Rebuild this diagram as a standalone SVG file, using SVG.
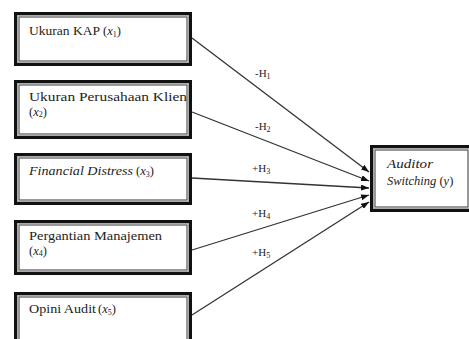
<svg xmlns="http://www.w3.org/2000/svg" width="469" height="339" viewBox="0 0 469 339">
<style>
.outer{fill:#fff;stroke:#111;stroke-width:3}
.inner{fill:none;stroke:#555;stroke-width:1.2}
.gap{fill:none;stroke:#aaa;stroke-width:1}
.t{font-family:'Liberation Serif','DejaVu Serif',serif;font-size:12.5px;fill:#222}
.i{font-style:italic}
.s{font-size:8px}
.lbl{font-family:'Liberation Serif','DejaVu Serif',serif;font-size:11px;fill:#222}
.ln{stroke:#333;stroke-width:1.3;fill:none;marker-end:url(#ah)}
</style>
<defs>
<marker id="ah" markerWidth="8" markerHeight="6" refX="8" refY="3" orient="auto" markerUnits="userSpaceOnUse">
<path d="M0,0 L8,3 L0,6 Z" fill="#111"/>
</marker>
</defs>
<rect width="469" height="339" fill="#fff"/>
<g id="connectors">
<line class="ln" x1="192" y1="38" x2="369" y2="172"/>
<line class="ln" x1="192" y1="112" x2="369" y2="181"/>
<line class="ln" x1="192" y1="178" x2="369" y2="188"/>
<line class="ln" x1="192" y1="250" x2="369" y2="195"/>
<line class="ln" x1="192" y1="315" x2="369" y2="202"/>
<text class="lbl" x="255" y="77">-H<tspan class="s" dy="2">1</tspan></text>
<text class="lbl" x="255" y="130">-H<tspan class="s" dy="2">2</tspan></text>
<text class="lbl" x="252" y="172">+H<tspan class="s" dy="2">3</tspan></text>
<text class="lbl" x="252" y="217">+H<tspan class="s" dy="2">4</tspan></text>
<text class="lbl" x="252" y="256">+H<tspan class="s" dy="2">5</tspan></text>
</g>
<g id="x1">
<rect class="outer" x="15.5" y="13.5" width="175" height="51"/>
<rect class="gap" x="17.5" y="15.5" width="171" height="47"/>
<rect class="inner" x="19" y="17" width="168" height="44"/>
<text class="t" x="29" y="35" textLength="71" lengthAdjust="spacingAndGlyphs">Ukuran KAP</text>
<text class="t" x="103" y="35">(<tspan class="i">x</tspan><tspan class="s" dy="2">1</tspan><tspan dy="-2">)</tspan></text>
</g>
<g id="x2">
<rect class="outer" x="15.5" y="81.5" width="175" height="56"/>
<rect class="gap" x="17.5" y="83.5" width="171" height="52"/>
<rect class="inner" x="19" y="85" width="168" height="49"/>
<text class="t" x="29" y="101" textLength="158" lengthAdjust="spacingAndGlyphs">Ukuran Perusahaan Klien</text>
<text class="t" x="29" y="116">(<tspan class="i">x</tspan><tspan class="s" dy="1">2</tspan><tspan dy="-1">)</tspan></text>
</g>
<g id="x3">
<rect class="outer" x="15.5" y="154.5" width="175" height="49"/>
<rect class="gap" x="17.5" y="156.5" width="171" height="45"/>
<rect class="inner" x="19" y="158" width="168" height="42"/>
<text class="t i" x="29" y="175" textLength="104" lengthAdjust="spacingAndGlyphs">Financial Distress</text>
<text class="t" x="136" y="175">(<tspan class="i">x</tspan><tspan class="s" dy="2">3</tspan><tspan dy="-2">)</tspan></text>
</g>
<g id="x4">
<rect class="outer" x="15.5" y="221.5" width="175" height="52"/>
<rect class="gap" x="17.5" y="223.5" width="171" height="48"/>
<rect class="inner" x="19" y="225" width="168" height="45"/>
<text class="t" x="29" y="240" textLength="133" lengthAdjust="spacingAndGlyphs">Pergantian Manajemen</text>
<text class="t" x="29" y="255">(<tspan class="i">x</tspan><tspan class="s" dy="1">4</tspan><tspan dy="-1">)</tspan></text>
</g>
<g id="x5">
<rect class="outer" x="15.5" y="293.5" width="175" height="55"/>
<rect class="gap" x="17.5" y="295.5" width="171" height="51"/>
<rect class="inner" x="19" y="297" width="168" height="48"/>
<text class="t" x="29" y="313" textLength="67" lengthAdjust="spacingAndGlyphs">Opini Audit</text>
<text class="t" x="98" y="313">(<tspan class="i">x</tspan><tspan class="s" dy="2">5</tspan><tspan dy="-2">)</tspan></text>
</g>
<g id="y">
<rect class="outer" x="371.5" y="146.5" width="100" height="64"/>
<rect class="gap" x="373.5" y="148.5" width="96" height="60"/>
<rect class="inner" x="375" y="150" width="93" height="57"/>
<text class="t i" x="387" y="168" textLength="46" lengthAdjust="spacingAndGlyphs">Auditor</text>
<text class="t" x="387" y="185"><tspan class="i">Switching</tspan> (<tspan class="i">y</tspan>)</text>
</g>
</svg>
